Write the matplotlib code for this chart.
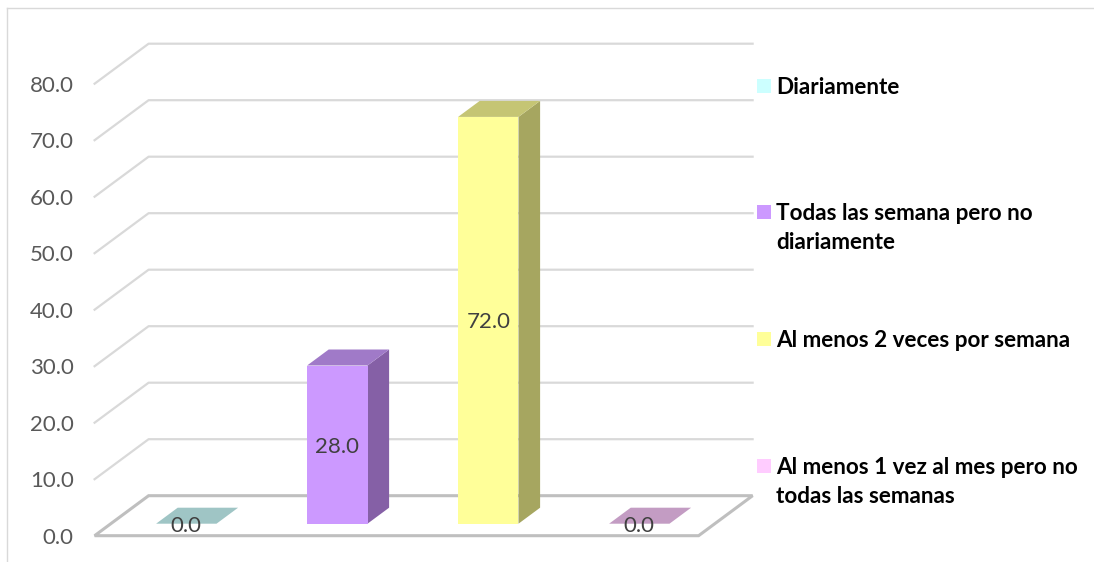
import matplotlib
matplotlib.use('Agg')
import matplotlib.pyplot as plt
from matplotlib.patches import Polygon, Rectangle
from matplotlib.lines import Line2D

categories = ['Diariamente', 'Todas las semana pero no\ndiariamente',
              'Al menos 2 veces por semana', 'Al menos 1 vez al mes pero no\ntodas las semanas']
values = [0.0, 28.0, 72.0, 0.0]
front_colors = ['#CCFFFF', '#CC99FF', '#FFFF99', '#FFCCFF']
top_colors = ['#9FC5C5', '#A07AC8', '#C5C574', '#C39CC3']
side_colors = ['#85A6A6', '#8560A6', '#A6A660', '#A685A6']
y_ticks = [0, 10, 20, 30, 40, 50, 60, 70, 80]

W, H = 1094, 562
plt.rcParams['font.family'] = ['Lato', 'DejaVu Sans']

fig = plt.figure(figsize=(W / 100, H / 100), dpi=100)

# axes runs over the front plane of the 3d box
left, right, bottom, top = 94.6, 698.6, 535.7, 83.7
ax = fig.add_axes([left / W, 1 - bottom / H, (right - left) / W, (bottom - top) / H])
ax.set_xlim(0, 4)
ax.set_ylim(0, 80)
ax.patch.set_visible(False)
for s in ax.spines.values():
    s.set_visible(False)
ax.set_xticks([])
ax.set_yticks(y_ticks)
ax.set_yticklabels([f'{t:.1f}' for t in y_ticks], fontsize=16, color='#595959')
ax.tick_params(axis='y', length=0, pad=15)
for lab in ax.get_yticklabels():
    lab.set_va('center_baseline')

# depth of the box in data units
dx = 54 / 151
dy = 40 / 5.65


def proj(x, y, d):
    return (x + dx * d, y + dy * d)


# gridlines, side wall and back wall
for t in y_ticks[1:]:
    pts = [proj(0, t, 0), proj(0, t, 1), proj(4, t, 1)]
    ax.add_line(Line2D(*zip(*pts), color='#D9D9D9', lw=1.6, clip_on=False, zorder=1))

# floor
floor = [proj(0, 0, 0), proj(4, 0, 0), proj(4, 0, 1), proj(0, 0, 1)]
ax.add_patch(Polygon(floor, closed=True, fill=False, ec='#BFBFBF', lw=2.2, clip_on=False, zorder=2))

# bars
bw = 0.4
d0, d1 = 0.3, 0.7
for i, v in enumerate(values):
    x0 = i + 0.5 - bw / 2
    x1 = x0 + bw
    top_face = [proj(x0, v, d0), proj(x1, v, d0), proj(x1, v, d1), proj(x0, v, d1)]
    side_face = [proj(x1, 0, d0), proj(x1, 0, d1), proj(x1, v, d1), proj(x1, v, d0)]
    front_face = [proj(x0, 0, d0), proj(x1, 0, d0), proj(x1, v, d0), proj(x0, v, d0)]
    ax.add_patch(Polygon(side_face, closed=True, fc=side_colors[i], ec='none', clip_on=False, zorder=3))
    ax.add_patch(Polygon(top_face, closed=True, fc=top_colors[i], ec='none', clip_on=False, zorder=3))
    if v > 0:
        ax.add_patch(Polygon(front_face, closed=True, fc=front_colors[i], ec='none', clip_on=False, zorder=4))
    lx, ly = proj(i + 0.5, v / 2, d0)
    ax.text(lx, ly, f'{v:.1f}', ha='center', va='center_baseline', fontsize=16, color='#404040', zorder=5)

# outer frame of the chart, only top and left show
fig.add_artist(Line2D([7 / W, 7 / W], [0, 1 - 8 / H], color='#D9D9D9', lw=1))
fig.add_artist(Line2D([7 / W, 1], [1 - 8 / H, 1 - 8 / H], color='#D9D9D9', lw=1))

# legend
legend_y = [86, 212, 339, 466]
for name, col, ly in zip(categories, front_colors, legend_y):
    fig.add_artist(Rectangle((757 / W, 1 - (ly + 7) / H), 14 / W, 14 / H, fc=col, ec='none',
                             transform=fig.transFigure))
    fig.text(776 / W, 1 - (ly - 9) / H, name, fontsize=16.2, fontweight='bold', color='black',
             ha='left', va='top', linespacing=1.45)

fig.savefig('out.png', dpi=100)
